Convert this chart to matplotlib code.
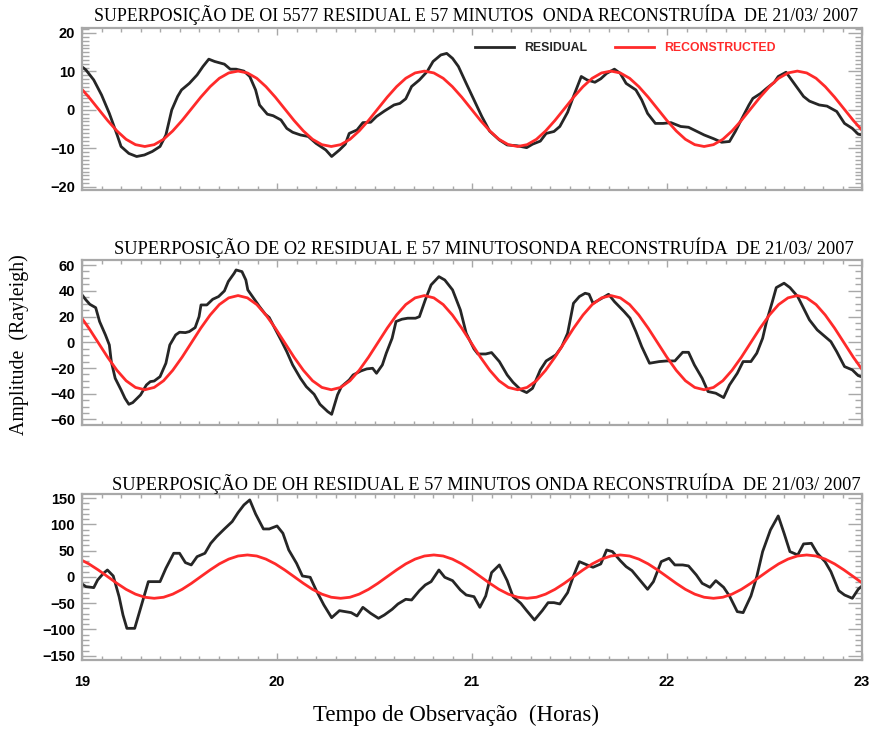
import matplotlib
matplotlib.use("Agg")
from matplotlib import pyplot as plt
from matplotlib.ticker import MultipleLocator
from matplotlib.lines import Line2D

# ---- residual series (hour, value) ----
oi_hours = [19.00, 19.02, 19.06, 19.10, 19.14, 19.18, 19.20, 19.24, 19.28, 19.32,
            19.36, 19.40, 19.43, 19.46, 19.49, 19.51, 19.55, 19.59, 19.62, 19.65,
            19.68, 19.73, 19.76, 19.79, 19.83, 19.86, 19.89, 19.91, 19.95, 19.98,
            20.02, 20.05, 20.08, 20.12, 20.16, 20.20, 20.25, 20.28, 20.32, 20.35,
            20.37, 20.41, 20.44, 20.48, 20.51, 20.55, 20.60, 20.63, 20.66, 20.69,
            20.73, 20.77, 20.80, 20.84, 20.87, 20.90, 20.93, 20.97, 21.01, 21.05,
            21.09, 21.14, 21.18, 21.23, 21.28, 21.31, 21.35, 21.38, 21.42, 21.45,
            21.49, 21.52, 21.56, 21.59, 21.63, 21.66, 21.69, 21.73, 21.76, 21.79,
            21.84, 21.87, 21.90, 21.94, 21.98, 22.02, 22.07, 22.11, 22.15, 22.19,
            22.24, 22.28, 22.32, 22.35, 22.38, 22.42, 22.44, 22.48, 22.51, 22.55,
            22.57, 22.61, 22.63, 22.67, 22.70, 22.73, 22.78, 22.82, 22.87, 22.91,
            22.95, 22.98, 23.00]
oi_resid = [11.2, 10.4, 7.8, 3.9, -0.9, -6.5, -9.5, -11.3, -12.1, -11.7,
            -10.8, -9.5, -6.5, 0.0, 3.5, 5.2, 6.9, 9.1, 11.3, 13.2,
            12.6, 11.9, 10.6, 10.6, 10.1, 8.7, 5.2, 1.3, -1.1, -1.5,
            -2.6, -4.8, -5.8, -6.5, -6.9, -8.7, -10.4, -12.1, -10.4, -8.9,
            -6.1, -5.2, -3.3, -3.2, -1.7, -0.3, 1.3, 1.7, 2.9, 6.1,
            7.8, 10.0, 12.6, 14.3, 14.7, 13.4, 11.3, 6.9, 2.6, -1.7,
            -5.5, -7.8, -9.1, -9.3, -9.8, -8.9, -8.1, -6.1, -5.6, -4.3,
            -0.6, 3.5, 8.7, 7.8, 7.2, 8.1, 9.5, 10.6, 9.5, 6.9,
            5.2, 2.6, -0.9, -3.5, -3.5, -3.3, -4.3, -4.5, -5.5, -6.5,
            -7.5, -8.4, -8.2, -5.6, -2.6, 1.3, 3.0, 4.3, 5.6, 7.2,
            8.7, 9.8, 8.4, 5.6, 3.5, 2.3, 1.3, 1.0, -0.4, -3.5,
            -4.8, -6.3, -6.5]

o2_hours = [19.00, 19.02, 19.04, 19.07, 19.09, 19.12, 19.14, 19.15, 19.17, 19.20,
            19.22, 19.24, 19.26, 19.30, 19.33, 19.35, 19.37, 19.40, 19.43, 19.45,
            19.48, 19.50, 19.53, 19.55, 19.58, 19.60, 19.61, 19.64, 19.67, 19.70,
            19.73, 19.75, 19.78, 19.79, 19.82, 19.84, 19.85, 19.88, 19.91, 19.94,
            19.96, 19.99, 20.02, 20.05, 20.08, 20.12, 20.15, 20.19, 20.22, 20.26,
            20.28, 20.31, 20.33, 20.37, 20.39, 20.43, 20.46, 20.49, 20.51, 20.54,
            20.56, 20.59, 20.61, 20.64, 20.67, 20.71, 20.73, 20.76, 20.79, 20.83,
            20.86, 20.90, 20.94, 20.97, 21.01, 21.03, 21.07, 21.10, 21.14, 21.18,
            21.21, 21.25, 21.28, 21.31, 21.35, 21.38, 21.43, 21.46, 21.49, 21.52,
            21.55, 21.58, 21.60, 21.62, 21.66, 21.70, 21.73, 21.78, 21.81, 21.84,
            21.87, 21.91, 21.96, 22.00, 22.04, 22.08, 22.11, 22.14, 22.18, 22.21,
            22.25, 22.29, 22.32, 22.36, 22.39, 22.43, 22.46, 22.49, 22.51, 22.54,
            22.56, 22.60, 22.63, 22.67, 22.70, 22.73, 22.77, 22.80, 22.84, 22.87,
            22.91, 22.95, 22.98, 23.00]
o2_resid = [36.8, 32.9, 29.5, 26.9, 16.1, 5.7, -2.1, -15.0, -28.0, -37.0,
            -43.5, -48.2, -46.9, -40.9, -33.2, -30.6, -30.1, -26.7, -16.3, -2.1,
            5.7, 7.8, 7.5, 8.3, 11.4, 19.9, 29.0, 29.0, 33.4, 35.5,
            39.9, 47.2, 53.6, 56.2, 54.9, 48.4, 40.7, 34.2, 27.7, 21.8,
            19.2, 10.4, 1.8, -7.3, -17.6, -28.0, -34.5, -40.4, -48.2, -53.9,
            -56.0, -40.9, -34.5, -29.3, -25.4, -22.3, -20.7, -20.2, -24.1, -17.6,
            -8.5, 3.1, 16.1, 17.9, 18.7, 18.7, 19.9, 32.9, 44.6, 51.0,
            48.4, 40.7, 25.1, 7.0, -5.2, -9.1, -9.1, -8.0, -15.0, -25.4,
            -31.1, -37.0, -39.1, -35.8, -21.5, -14.5, -9.8, -3.4, 7.0, 30.3,
            35.5, 38.1, 37.3, 30.3, 33.7, 37.3, 31.6, 23.8, 18.7, 8.3,
            -3.4, -16.3, -15.0, -14.5, -14.5, -7.8, -7.8, -17.6, -28.0, -38.3,
            -39.6, -43.0, -33.2, -24.1, -15.0, -15.0, -8.5, 3.1, 16.1, 31.6,
            42.5, 45.9, 42.5, 35.5, 26.4, 17.4, 9.6, 5.7, 0.5, -7.3,
            -18.9, -21.5, -25.9, -27.0]

oh_hours = [19.00, 19.02, 19.06, 19.08, 19.11, 19.13, 19.16, 19.19, 19.21, 19.23,
            19.27, 19.30, 19.34, 19.37, 19.40, 19.43, 19.47, 19.50, 19.53, 19.56,
            19.59, 19.63, 19.66, 19.69, 19.73, 19.77, 19.80, 19.83, 19.86, 19.89,
            19.93, 19.96, 20.00, 20.03, 20.06, 20.10, 20.13, 20.17, 20.20, 20.24,
            20.28, 20.32, 20.35, 20.38, 20.41, 20.44, 20.48, 20.52, 20.55, 20.59,
            20.62, 20.66, 20.69, 20.73, 20.76, 20.79, 20.83, 20.86, 20.90, 20.94,
            20.97, 21.01, 21.04, 21.07, 21.10, 21.14, 21.18, 21.21, 21.25, 21.28,
            21.32, 21.36, 21.39, 21.42, 21.45, 21.49, 21.52, 21.55, 21.59, 21.62,
            21.66, 21.69, 21.72, 21.76, 21.79, 21.82, 21.86, 21.90, 21.93, 21.97,
            22.01, 22.04, 22.08, 22.11, 22.15, 22.18, 22.22, 22.25, 22.29, 22.32,
            22.36, 22.39, 22.43, 22.46, 22.49, 22.53, 22.57, 22.60, 22.63, 22.67,
            22.70, 22.74, 22.77, 22.81, 22.84, 22.88, 22.91, 22.95, 22.98, 23.00]
oh_resid = [-13.3, -18.4, -20.3, -5.7, 7.0, 13.3, 1.9, -37.5, -72.4, -97.8,
            -97.8, -59.7, -8.9, -8.9, -8.9, 16.5, 45.1, 45.1, 27.3, 22.9,
            38.7, 45.1, 64.1, 76.8, 91.4, 105.4, 122.5, 137.1, 146.7, 120.0,
            91.4, 91.4, 97.1, 83.2, 51.4, 26.0, 1.9, -0.6, -24.8, -53.3,
            -77.5, -64.1, -66.0, -67.9, -74.3, -57.8, -69.2, -78.7, -72.4, -61.6,
            -51.4, -42.5, -43.8, -26.0, -15.2, -8.9, 13.3, -0.6, -7.0, -24.8,
            -34.3, -37.5, -57.8, -36.2, 8.3, 22.9, -7.0, -37.5, -50.2, -64.1,
            -81.9, -64.1, -48.9, -48.9, -51.4, -29.8, 1.9, 29.2, 22.9, 18.4,
            24.8, 51.4, 48.3, 31.1, 19.7, 12.1, -5.7, -23.5, -8.9, 29.2,
            35.6, 22.9, 22.9, 21.0, 3.8, -12.1, -19.7, -7.0, -19.7, -36.2,
            -66.0, -67.9, -36.2, 0.6, 48.3, 89.5, 116.2, 83.2, 48.3, 41.9,
            62.9, 64.1, 45.1, 29.2, 10.2, -26.0, -34.3, -40.6, -23.5, -17.0]

# ---- reconstructed 57 min wave, read at a common set of hours ----
recon_hours = [18.987, 19.035, 19.083, 19.131, 19.179, 19.226, 19.274, 19.322, 19.370, 19.418,
               19.465, 19.513, 19.561, 19.609, 19.657, 19.704, 19.752, 19.800, 19.848, 19.896,
               19.943, 19.991, 20.039, 20.087, 20.135, 20.182, 20.230, 20.278, 20.326, 20.374,
               20.421, 20.469, 20.517, 20.565, 20.613, 20.660, 20.708, 20.756, 20.804, 20.852,
               20.899, 20.947, 20.995, 21.043, 21.091, 21.138, 21.186, 21.234, 21.282, 21.330,
               21.377, 21.425, 21.473, 21.521, 21.569, 21.616, 21.664, 21.712, 21.760, 21.808,
               21.855, 21.903, 21.951, 21.999, 22.047, 22.094, 22.142, 22.190, 22.238, 22.286,
               22.333, 22.381, 22.429, 22.477, 22.525, 22.572, 22.620, 22.668, 22.716, 22.764,
               22.811, 22.859, 22.907, 22.955, 23.003, 23.050]

oi_recon = [6.06, 3.33, 0.30, -2.73, -5.46, -7.63, -9.02, -9.50, -9.02, -7.63,
            -5.46, -2.73, 0.30, 3.33, 6.06, 8.23, 9.62,
            10.10, 9.62, 8.23, 6.06, 3.33, 0.30, -2.73, -5.46, -7.63, -9.02,
            -9.50, -9.02, -7.63, -5.46, -2.73, 0.30, 3.33, 6.06, 8.23, 9.62,
            10.10, 9.62, 8.23, 6.06, 3.33, 0.30, -2.73, -5.46, -7.63, -9.02,
            -9.50, -9.02, -7.63, -5.46, -2.73, 0.30, 3.33, 6.06, 8.23, 9.62,
            10.10, 9.62, 8.23, 6.06, 3.33, 0.30, -2.73, -5.46, -7.63, -9.02,
            -9.50, -9.02, -7.63, -5.46, -2.73, 0.30, 3.33, 6.06, 8.23, 9.62,
            10.10, 9.62, 8.23, 6.06, 3.33, 0.30, -2.73, -5.46, -7.63]

o2_recon = [21.2, 11.0, -0.3, -11.6, -21.8, -29.9, -35.1, -36.9, -35.1, -29.9,
            -21.8, -11.6, -0.3, 11.0, 21.2, 29.3, 34.5,
            36.3, 34.5, 29.3, 21.2, 11.0, -0.3, -11.6, -21.8, -29.9, -35.1,
            -36.9, -35.1, -29.9, -21.8, -11.6, -0.3, 11.0, 21.2, 29.3, 34.5,
            36.3, 34.5, 29.3, 21.2, 11.0, -0.3, -11.6, -21.8, -29.9, -35.1,
            -36.9, -35.1, -29.9, -21.8, -11.6, -0.3, 11.0, 21.2, 29.3, 34.5,
            36.3, 34.5, 29.3, 21.2, 11.0, -0.3, -11.6, -21.8, -29.9, -35.1,
            -36.9, -35.1, -29.9, -21.8, -11.6, -0.3, 11.0, 21.2, 29.3, 34.5,
            36.3, 34.5, 29.3, 21.2, 11.0, -0.3, -11.6, -21.8, -29.9]

oh_recon = [34.0, 24.9, 13.4, 0.7, -12.1, -23.6, -32.7, -38.6, -40.6, -38.6,
            -32.7, -23.6, -12.1, 0.7, 13.4, 24.9, 34.0, 39.9,
            41.9, 39.9, 34.0, 24.9, 13.4, 0.7, -12.1, -23.6, -32.7, -38.6,
            -40.6, -38.6, -32.7, -23.6, -12.1, 0.7, 13.4, 24.9, 34.0, 39.9,
            41.9, 39.9, 34.0, 24.9, 13.4, 0.7, -12.1, -23.6, -32.7, -38.6,
            -40.6, -38.6, -32.7, -23.6, -12.1, 0.7, 13.4, 24.9, 34.0, 39.9,
            41.9, 39.9, 34.0, 24.9, 13.4, 0.7, -12.1, -23.6, -32.7, -38.6,
            -40.6, -38.6, -32.7, -23.6, -12.1, 0.7, 13.4, 24.9, 34.0, 39.9,
            41.9, 39.9, 34.0, 24.9, 13.4, 0.7, -12.1, -23.6]

titles = ["SUPERPOSIÇÃO DE OI 5577 RESIDUAL E 57 MINUTOS  ONDA RECONSTRUÍDA  DE 21/03/ 2007",
          "SUPERPOSIÇÃO DE O2 RESIDUAL E 57 MINUTOSONDA RECONSTRUÍDA  DE 21/03/ 2007",
          "SUPERPOSIÇÃO DE OH RESIDUAL E 57 MINUTOS ONDA RECONSTRUÍDA  DE 21/03/ 2007"]
hour_ticks = [19, 20, 21, 22, 23]

GREY = "#a8a8a8"
BLACK = "#262626"
RED = "#ff2a2a"
SERIF = "Liberation Serif"
SANS = "Liberation Sans"

fig = plt.figure(figsize=(8.7, 7.29), dpi=100)

# panel rectangles (left, bottom, width, height) in figure fraction
rects = [(0.0943, 0.7394, 0.8966, 0.2222),
         (0.0943, 0.4170, 0.8966, 0.2263),
         (0.0943, 0.0947, 0.8966, 0.2277)]
ylims = [(-20.8, 21.3), (-64.3, 63.9), (-158, 158)]
ymajor = [10, 20, 50]
yminor = [1, 5, 10]
title_xy = [(0.547, 0.980), (0.556, 0.660), (0.559, 0.336)]
title_size = [12.9, 13.2, 13.2]

series = [(oi_hours, oi_resid, oi_recon),
          (o2_hours, o2_resid, o2_recon),
          (oh_hours, oh_resid, oh_recon)]

for i, (hrs, resid, recon) in enumerate(series):
    ax = fig.add_axes(rects[i])
    ax.plot(hrs, resid, color=BLACK, lw=2.0, solid_joinstyle="round")
    ax.plot(recon_hours, recon, color=RED, lw=2.0)
    ax.set_xlim(19, 23)
    ax.set_ylim(*ylims[i])
    ax.set_xticks(hour_ticks)
    ax.xaxis.set_minor_locator(MultipleLocator(0.1))
    ax.yaxis.set_major_locator(MultipleLocator(ymajor[i]))
    ax.yaxis.set_minor_locator(MultipleLocator(yminor[i]))
    ax.tick_params(which="both", direction="in", top=True, right=True,
                   color=GREY, width=1.0)
    ax.tick_params(axis="y", which="major", length=10, pad=5)
    ax.tick_params(axis="y", which="minor", length=5)
    ax.tick_params(axis="x", which="major", length=5, pad=11)
    ax.tick_params(axis="x", which="minor", length=3)
    for sp in ax.spines.values():
        sp.set_color(GREY)
        sp.set_linewidth(1.6)
    for lab in ax.get_yticklabels():
        lab.set_fontfamily(SANS)
        lab.set_fontweight("bold")
        lab.set_fontsize(10.5)
    if i < 2:
        ax.set_xticklabels([])
    else:
        for lab in ax.get_xticklabels():
            lab.set_fontfamily(SANS)
            lab.set_fontweight("bold")
            lab.set_fontsize(10.5)
    fig.text(title_xy[i][0], title_xy[i][1], titles[i], ha="center", va="center",
             family=SERIF, fontsize=title_size[i])

    if i == 0:
        handles = [Line2D([], [], color=BLACK, lw=2.0), Line2D([], [], color=RED, lw=2.0)]
        ax.legend(handles, ["RESIDUAL", "RECONSTRUCTED"], loc="center left",
                  bbox_to_anchor=(0.49, 0.877), ncol=2, frameon=False,
                  handlelength=3.2, handletextpad=0.8, columnspacing=2.3,
                  labelcolor=[BLACK, RED],
                  prop={"family": SANS, "weight": "bold", "size": 8.8})

fig.text(0.022, 0.527, "Amplitude  (Rayleigh)", rotation=90, ha="center", va="center",
         family=SERIF, fontsize=14.3)
fig.text(0.524, 0.018, "Tempo de Observação  (Horas)", ha="center", va="center",
         family=SERIF, fontsize=16.5)

fig.savefig("out.png", dpi=100)
